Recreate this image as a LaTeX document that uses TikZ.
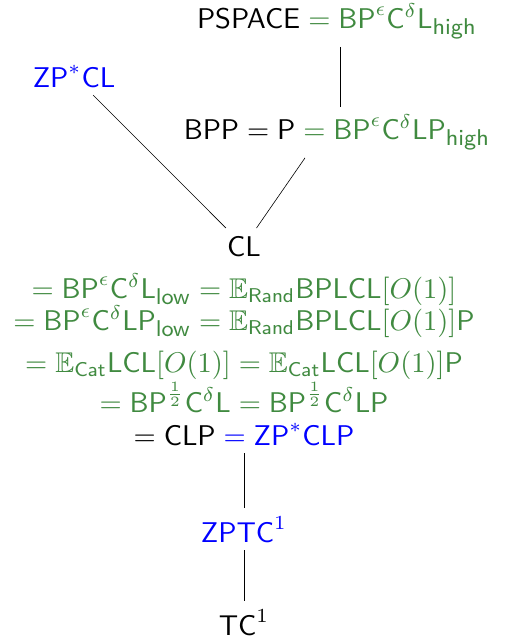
\documentclass[tikz,border=0pt]{standalone}
\usepackage{graphicx}
\usepackage{amssymb}
\definecolor{grn}{rgb}{0.25,0.54,0.25}
\newcommand{\G}[1]{\textcolor{grn}{#1}}
\newcommand{\Bl}[1]{\textcolor{blue}{#1}}
\newcommand{\Sc}[1]{\scalebox{2.85}{#1}}
\newcommand{\sbt}[1]{\hbox{\fontsize{8}{8}\selectfont\sffamily #1}}
\begin{document}
\begin{tikzpicture}[x=1pt,y=-1pt,
  lbl/.style={font=\fontsize{10}{12}\selectfont\sffamily, inner sep=8pt, anchor=base},
  eqline/.style={lbl, inner sep=0pt, text=grn},
  edge/.style={draw=black, line width=0.6pt}]
\useasboundingbox (0,0) rectangle (505,641);
\node[lbl, inner sep=0pt] (ps) at (337,28) {\Sc{$\mathsf{PSPACE} \mathrel{\G{=}} \G{\mathsf{BP}^{\epsilon}\mathsf{C}^{\delta}\mathsf{L}_{\sbt{high}}}$}};
\node[lbl] (zp) at (74,87) {\Sc{$\Bl{\mathsf{ZP}^{*}\mathsf{CL}}$}};
\node[lbl] (bpp) at (337,139) {\Sc{$\mathsf{BPP} = \mathsf{P} \mathrel{\G{=}} \G{\mathsf{BP}^{\epsilon}\mathsf{C}^{\delta}\mathsf{LP}_{\sbt{high}}}$}};
\node[lbl] (cl) at (244,256) {\Sc{$\mathsf{CL}$}};
\node[eqline] (l2) at (244,298) {\Sc{$= \mathsf{BP}^{\epsilon}\mathsf{C}^{\delta}\mathsf{L}_{\sbt{low}} = \mathbb{E}_{\mathsf{Rand}}\mathsf{BPLCL}[O(1)]$}};
\node[eqline] (l3) at (244,330) {\Sc{$= \mathsf{BP}^{\epsilon}\mathsf{C}^{\delta}\mathsf{LP}_{\sbt{low}} = \mathbb{E}_{\mathsf{Rand}}\mathsf{BPLCL}[O(1)]\mathsf{P}$}};
\node[eqline] (l4) at (244,372) {\Sc{$= \mathbb{E}_{\mathsf{Cat}}\mathsf{LCL}[O(1)] = \mathbb{E}_{\mathsf{Cat}}\mathsf{LCL}[O(1)]\mathsf{P}$}};
\node[eqline] (l5) at (244,412) {\Sc{$= \mathsf{BP}^{\frac{1}{2}}\mathsf{C}^{\delta}\mathsf{L} = \mathsf{BP}^{\frac{1}{2}}\mathsf{C}^{\delta}\mathsf{LP}$}};
\node[lbl] (l6) at (244,445) {\Sc{$= \mathsf{CLP} \mathrel{\Bl{=}} \Bl{\mathsf{ZP}^{*}\mathsf{CLP}}$}};
\node[lbl] (zptc) at (244,542) {\Sc{$\Bl{\mathsf{ZPTC}^{1}}$}};
\node[lbl] (tc) at (244,635) {\Sc{$\mathsf{TC}^{1}$}};
\draw[edge, shorten <=8pt] ([xshift=3pt]ps.south) -- ([xshift=3pt]ps.south |- bpp.north);
\draw[edge] (zp) -- (cl);
\draw[edge] ([xshift=-32pt]bpp.south) -- (cl);
\draw[edge] (l6.south) -- (l6.south |- zptc.north);
\draw[edge] (zptc.south) -- (zptc.south |- tc.north);
\end{tikzpicture}
\end{document}
